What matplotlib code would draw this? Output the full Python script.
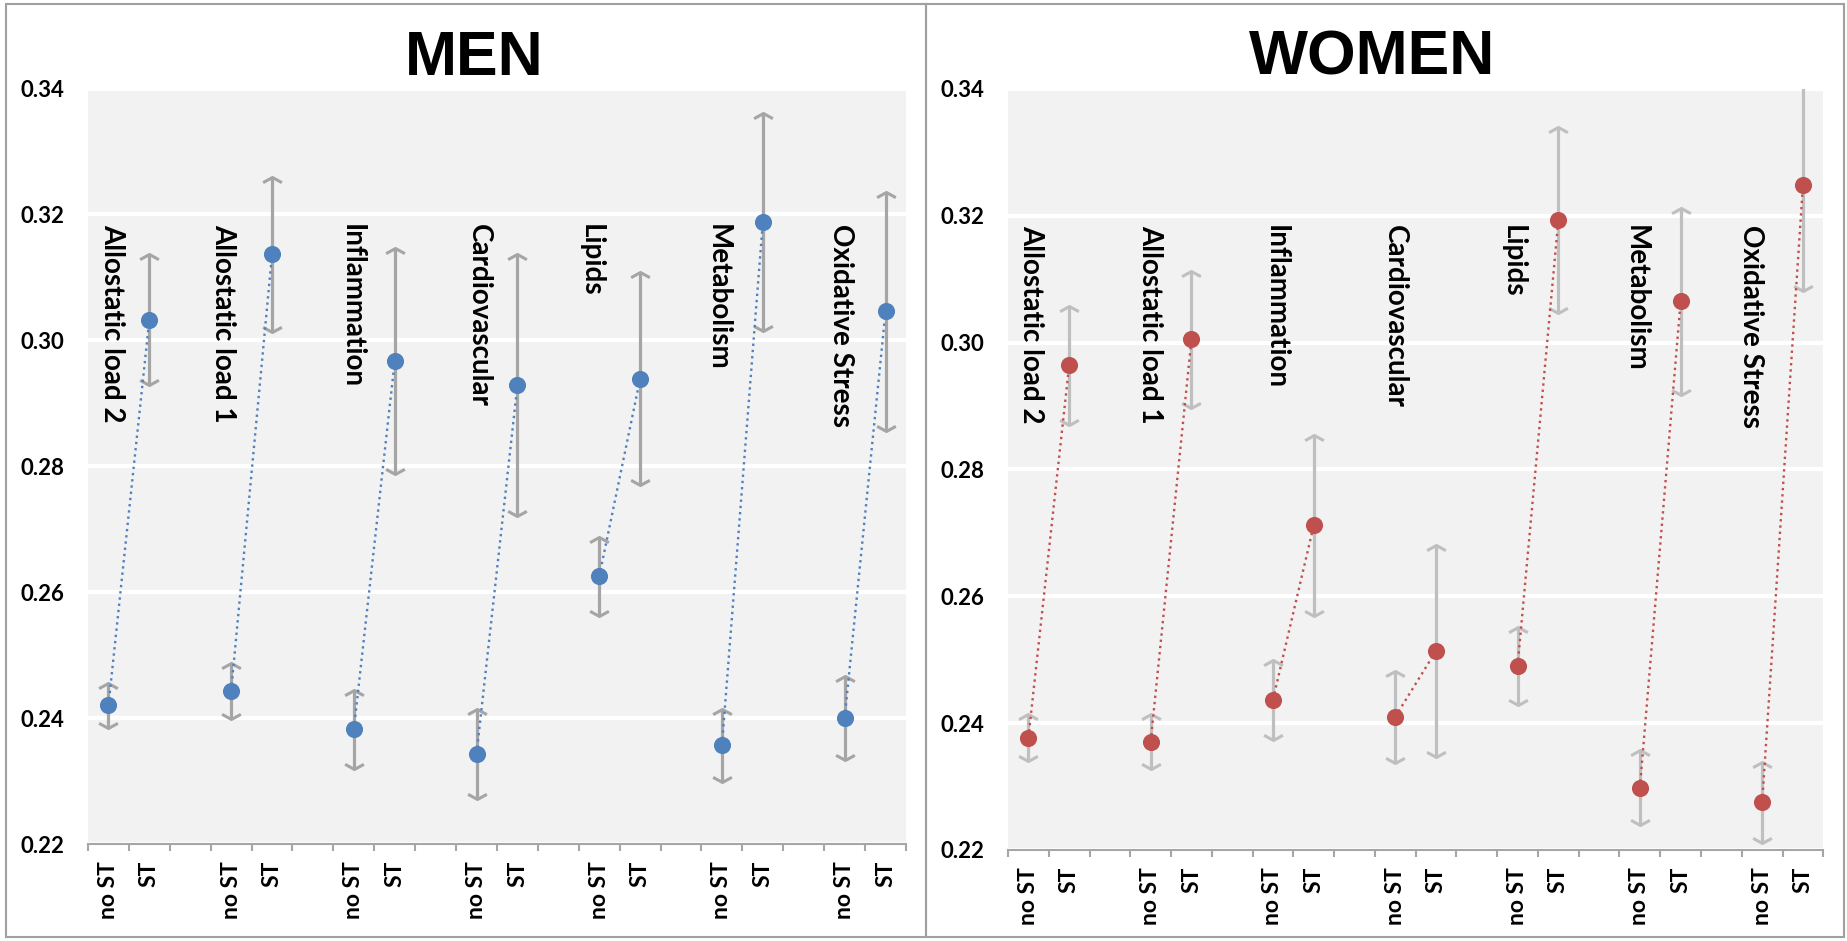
import numpy as np
import matplotlib.pyplot as plt
from matplotlib.path import Path
from matplotlib.patches import Rectangle

#Grupos de biomarcadores
groups = ["Allostatic load 2", "Allostatic load 1", "Inflammation", "Cardiovascular",
          "Lipids", "Metabolism", "Oxidative Stress"]
tick_labels = (["no ST", "ST", ""] * 7)[:20]

#Hombres: sin ST / con ST y su error
men_nost = [0.2420, 0.2443, 0.2382, 0.2343, 0.2625, 0.2357, 0.2400]
men_nost_err = [0.0035, 0.0045, 0.0063, 0.0071, 0.0063, 0.0058, 0.0067]
men_st = [0.3033, 0.3137, 0.2967, 0.2929, 0.2939, 0.3188, 0.3046]
men_st_err = [0.0104, 0.0123, 0.0179, 0.0208, 0.0169, 0.0173, 0.0190]

#Mujeres
women_nost = [0.2377, 0.2371, 0.2437, 0.2410, 0.2490, 0.2298, 0.2275]
women_nost_err = [0.0037, 0.0044, 0.0063, 0.0073, 0.0062, 0.0059, 0.0064]
women_st = [0.2964, 0.3005, 0.2712, 0.2514, 0.3193, 0.3065, 0.3248]
women_st_err = [0.0094, 0.0108, 0.0143, 0.0167, 0.0147, 0.0147, 0.0167]

plt.rcParams['font.family'] = ['Lato', 'DejaVu Sans']

#Flechas abiertas para los extremos del error
up_head = Path([(-1, -0.55), (0, 0), (1, -0.55)], [Path.MOVETO, Path.LINETO, Path.LINETO])
down_head = Path([(-1, 0.55), (0, 0), (1, 0.55)], [Path.MOVETO, Path.LINETO, Path.LINETO])


def draw_panel(ax, nost, nost_err, st, st_err, color, err_color, shifts):
    n = len(tick_labels)
    x = np.arange(n)
    y = np.full(n, np.nan)
    e = np.full(n, np.nan)
    y[0::3] = nost
    y[1::3] = st
    e[0::3] = nost_err
    e[1::3] = st_err
    ok = ~np.isnan(y)

    ax.set_facecolor("#F2F2F2")
    ax.errorbar(x[ok], y[ok], yerr=e[ok], fmt="none", ecolor=err_color,
                elinewidth=2.3, capsize=0, zorder=2)
    ax.plot(x[ok], y[ok] + e[ok], linestyle="none", marker=up_head, ms=13.5,
            mew=2.2, mfc="none", mec=err_color, zorder=2)
    ax.plot(x[ok], y[ok] - e[ok], linestyle="none", marker=down_head, ms=13.5,
            mew=2.2, mfc="none", mec=err_color, zorder=2)
    ax.plot(x, y, linestyle=":", color=color, lw=1.7, zorder=3)
    ax.plot(x[ok], y[ok], linestyle="none", marker="o", ms=11.3, color=color, zorder=4)

    for i, name in enumerate(groups):
        ax.text(3 * i + shifts[i], 0.3185, name, rotation=-90, ha="center", va="top",
                fontsize=20, fontweight="bold", zorder=5)

    ax.set_xlim(-0.5, n - 0.5)
    ax.set_ylim(0.22, 0.34)
    yt = np.arange(0.22, 0.3401, 0.02)
    ax.set_yticks(yt)
    ax.set_yticklabels([f"{v:.2f}" for v in yt], fontsize=16, fontweight="bold")
    ax.tick_params(axis="y", length=0, pad=17)
    ax.yaxis.grid(True, color="white", lw=3)
    ax.set_axisbelow(True)

    ax.set_xticks(np.arange(-0.5, n, 1))
    ax.set_xticklabels([])
    ax.set_xticks(x, minor=True)
    ax.set_xticklabels(tick_labels, minor=True, rotation=90, fontsize=16.5, fontweight="bold")
    ax.tick_params(axis="x", which="major", length=5, width=1.5, color="#A6A6A6", direction="out")
    ax.tick_params(axis="x", which="minor", length=0, pad=12)

    for s in ["left", "top", "right"]:
        ax.spines[s].set_visible(False)
    ax.spines["bottom"].set_color("#A6A6A6")
    ax.spines["bottom"].set_linewidth(1.5)


fig = plt.figure(figsize=(18.47, 9.41), dpi=100)
ax_men = fig.add_axes([0.04764, 0.10308, 0.44288, 0.80287])
ax_women = fig.add_axes([0.54575, 0.09671, 0.44142, 0.80871])

draw_panel(ax_men, men_nost, men_nost_err, men_st, men_st_err, "#4F81BD", "#A5A5A5",
           [0.09, -0.2, -0.06, 0.05, -0.2, -0.11, -0.09])
draw_panel(ax_women, women_nost, women_nost_err, women_st, women_st_err, "#C0504D", "#BFBFBF",
           [0.06, -0.02, 0.07, 0.0, -0.13, -0.1, -0.28])

fig.text(0.2566, 0.9203, "MEN", ha="center", va="baseline", fontsize=45,
         fontweight="bold", family="Liberation Sans")
fig.text(0.7428, 0.9203, "WOMEN", ha="center", va="baseline", fontsize=45,
         fontweight="bold", family="Liberation Sans")

#Marcos de cada panel
W, H = 1847, 941
for x0, x1 in [(6, 926), (926, 1844)]:
    fig.add_artist(Rectangle((x0 / W, 1 - 937 / H), (x1 - x0) / W, 933 / H,
                             transform=fig.transFigure, fill=False,
                             edgecolor="#A0A0A0", lw=1.5))

fig.savefig("out.png", dpi=100)
